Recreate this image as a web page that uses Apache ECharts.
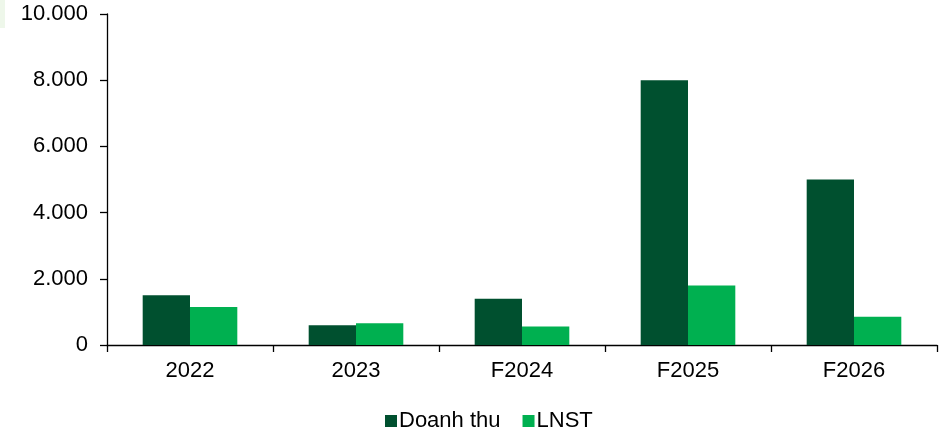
<!DOCTYPE html>
<html>
<head>
<meta charset="utf-8">
<script src="https://cdn.jsdelivr.net/npm/echarts@6/dist/echarts.min.js"></script>
<style>
  html, body { margin: 0; padding: 0; background: #ffffff; }
  #chart { width: 951px; height: 434px; }
</style>
</head>
<body>
<div id="chart"></div>
<script>
// Revenue and net profit by year (billion VND)
const categories = ['2022', '2023', 'F2024', 'F2025', 'F2026'];
const doanhThu = [1500, 600, 1400, 8000, 5000];
const lnst = [1150, 660, 560, 1800, 850];
const yTicks = [0, 2000, 4000, 6000, 8000, 10000];

const fontFamily = '"Liberation Sans", Arial, sans-serif';
const fmt = v => String(v).replace(/\B(?=(\d{3})+(?!\d))/g, '.');

const chart = echarts.init(document.getElementById('chart'), null, { renderer: 'canvas' });
chart.setOption({
  animation: false,
  backgroundColor: '#ffffff',
  graphic: [{
    type: 'rect',
    left: 0, top: 0,
    shape: { width: 5, height: 28 },
    style: { fill: '#eef7ea' },
    silent: true
  }],
  grid: { left: 107, right: 14, top: 14, bottom: 89, containLabel: false },
  legend: {
    top: 410,
    left: 385,
    padding: 0,
    itemWidth: 12,
    itemHeight: 12,
    itemGap: 22,
    icon: 'rect',
    textStyle: { fontFamily, fontSize: 22, color: '#000', padding: [0, 0, 0, -3] },
    data: ['Doanh thu', 'LNST']
  },
  xAxis: {
    type: 'category',
    data: categories,
    axisLine: { lineStyle: { color: '#000', width: 1.3 } },
    axisTick: { show: true, length: 7, alignWithLabel: false, lineStyle: { color: '#000', width: 1.3 } },
    axisLabel: { fontFamily, fontSize: 22, color: '#000', margin: 15 },
    splitLine: { show: false }
  },
  yAxis: {
    type: 'value',
    min: yTicks[0],
    max: yTicks[yTicks.length - 1],
    interval: yTicks[1] - yTicks[0],
    axisLine: { show: true, lineStyle: { color: '#000', width: 1.3 } },
    axisTick: { show: true, length: 7, lineStyle: { color: '#000', width: 1.3 } },
    axisLabel: { fontFamily, fontSize: 22, color: '#000', margin: 19, formatter: fmt },
    splitLine: { show: false }
  },
  series: [
    {
      name: 'Doanh thu',
      type: 'bar',
      data: doanhThu,
      barGap: '0%',
      barCategoryGap: '43%',
      itemStyle: { color: '#00502F' }
    },
    {
      name: 'LNST',
      type: 'bar',
      data: lnst,
      barGap: '0%',
      barCategoryGap: '43%',
      itemStyle: { color: '#00B050' }
    }
  ]
});
</script>
</body>
</html>
